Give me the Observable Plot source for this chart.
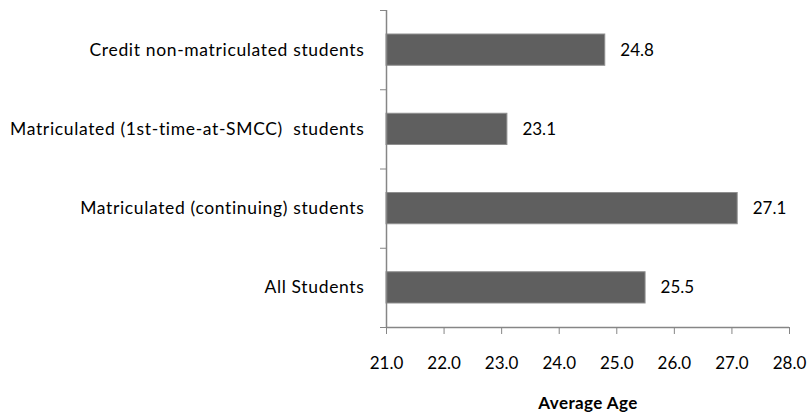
<!DOCTYPE html>
<html>
<head>
<meta charset="utf-8">
<script src="https://cdn.jsdelivr.net/npm/d3@7"></script>
<script src="https://cdn.jsdelivr.net/npm/@observablehq/plot@0.6"></script>
<style>
  body { margin: 0; background: #fff; }
  svg { font-family: Lato, "Open Sans", sans-serif; }
</style>
</head>
<body>
<div id="chart"></div>
<script>
const categories = [
  "Credit non-matriculated students",
  "Matriculated (1st-time-at-SMCC)  students",
  "Matriculated (continuing) students",
  "All Students"
];
const values = [24.8, 23.1, 27.1, 25.5];
const xTicks = [21, 22, 23, 24, 25, 26, 27, 28];

const data = categories.map((c, i) => ({category: c, value: values[i], i}));

const spaced = (ls) => (index, scales, values, dims, context, next) => {
  const g = next(index, scales, values, dims, context);
  if (g) g.setAttribute("letter-spacing", ls);
  return g;
};

const chart = Plot.plot({
  width: 810,
  height: 417,
  marginLeft: 386,
  marginRight: 21,
  marginTop: 10,
  marginBottom: 90,
  style: {fontFamily: "Lato, 'Open Sans', sans-serif", fontSize: "17px", color: "#000"},
  x: {domain: [21, 28]},
  y: {domain: [0, categories.length], reverse: true},
  marks: [
    Plot.rectX(data, {
      x1: 21, x2: "value", y1: "i", y2: d => d.i + 1,
      insetTop: 24, insetBottom: 24,
      fill: "#5f5f5f", stroke: "#8f8f8f", strokeWidth: 1
    }),
    Plot.text(data, {
      x: "value", y: d => d.i + 0.5, text: d => d.value.toFixed(1),
      textAnchor: "start", dx: 15, fill: "#000", fontSize: 17
    }),
    Plot.text(data, {
      x: 21, y: d => d.i + 0.5, text: "category",
      textAnchor: "end", dx: -22, fill: "#000", fontSize: 17.5,
      render: spaced("0.65")
    }),
    Plot.axisY({
      ticks: d3.range(0, categories.length + 1), tickFormat: () => "",
      tickSize: 6, stroke: "#868686", label: null
    }),
    Plot.ruleX([21], {stroke: "#868686", strokeWidth: 1.5}),
    Plot.axisX({
      ticks: xTicks, tickFormat: d => d.toFixed(1), tickSize: 7, tickPadding: 22,
      stroke: "#868686", fill: "#000", fontSize: 17,
      label: null
    }),
    Plot.ruleY([0], {y: () => categories.length, stroke: "#868686", strokeWidth: 1.5}),
    Plot.text(["Average Age"], {
      frameAnchor: "bottom", lineAnchor: "middle", dy: 76, fontWeight: "bold", fontSize: 17, fill: "#000",
      render: spaced("0.4")
    })
  ]
});
document.getElementById("chart").appendChild(chart);
</script>
</body>
</html>
